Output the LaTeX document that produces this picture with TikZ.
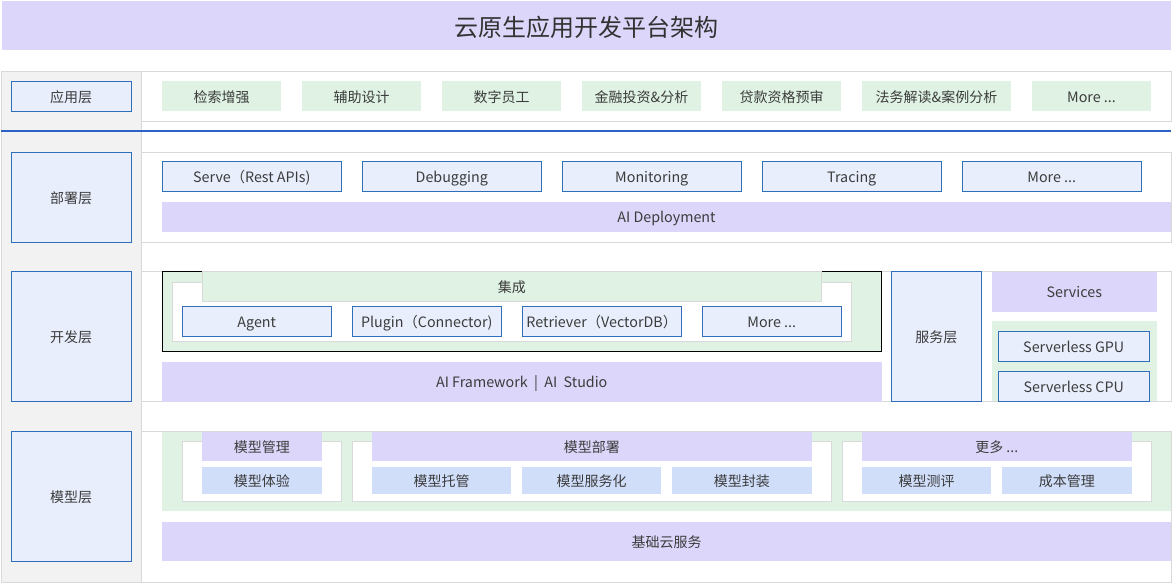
\documentclass[tikz,border=0pt]{standalone}
\usepackage{fontspec}
\setmainfont{Noto Sans CJK SC}
\definecolor{lav}{RGB}{220,215,250}
\definecolor{grn}{RGB}{223,242,227}
\definecolor{palebl}{RGB}{232,238,252}
\definecolor{bordbl}{RGB}{46,110,186}
\definecolor{itembl}{RGB}{208,222,250}
\definecolor{colgray}{RGB}{242,242,242}
\definecolor{lgray}{RGB}{217,217,217}
\definecolor{sepbl}{RGB}{43,98,196}
\definecolor{txt}{RGB}{60,60,60}
\definecolor{ttl}{RGB}{50,50,50}
\tikzset{
  base/.style={inner sep=0pt, outer sep=0pt, text=txt, text height=13pt, text depth=1pt, font=\fontsize{14}{16}\selectfont},
  lavbox/.style={base, fill=lav},
  grnbox/.style={base, fill=grn},
  bluebox/.style={base, fill=palebl, draw=bordbl, line width=0.9pt},
  itembox/.style={base, fill=itembl},
  whitebox/.style={base, fill=white, draw=lgray, line width=0.8pt},
  colbox/.style={base, fill=colgray, draw=lgray, line width=0.8pt},
  framebox/.style={base, fill=grn, draw=black, line width=0.8pt},
  hdrbox/.style={base, fill=grn, draw=lgray, line width=0.8pt},
  lat/.style={font=\fontsize{14.3}{17}\selectfont},
  titlebox/.style={lavbox, text=ttl, text height=23pt, text depth=1.5pt, font=\fontsize{24}{28}\selectfont},
}
\newcommand{\bx}[7]{\node[#2, anchor=north west, minimum width={(#5-#3)*1pt}, minimum height={(#6-#4)*1pt}] (#1) at (#3,#4) {#7};}
\begin{document}
\begin{tikzpicture}[x=1pt,y=-1pt]
\useasboundingbox (0,0) rectangle (1173,583);
\fill[white] (0,0) rectangle (1173,583);
% title
\bx{title}{titlebox}{2}{1.5}{1171}{50.5}{云原生应用开发平台架构}
% left column and rows
\bx{leftcol}{colbox}{1}{71}{141}{582}{}
\bx{row1}{whitebox}{141}{71}{1171}{121}{}
\bx{row2}{whitebox}{141}{152}{1171}{242}{}
\bx{row3}{whitebox}{141}{271}{1171}{401}{}
\bx{row4}{whitebox}{141}{431}{1171}{582}{}
% separator
\coordinate (sepL) at (1,131);
\coordinate (sepR) at (1171,131);
\draw[sepbl, line width=2.2pt] (sepL) -- (sepR);
% layer labels
\bx{l1}{bluebox}{11}{81}{131}{111.5}{应用层}
\bx{l2}{bluebox}{11}{152.5}{131}{242.5}{部署层}
\bx{l3}{bluebox}{11}{271.5}{131}{401.5}{开发层}
\bx{l4}{bluebox}{11}{431.5}{131}{561.5}{模型层}
% application row
\bx{a1}{grnbox}{162}{81.5}{281}{111.5}{检索增强}
\bx{a2}{grnbox}{302}{81.5}{421}{111.5}{辅助设计}
\bx{a3}{grnbox}{442}{81.5}{561}{111.5}{数字员工}
\bx{a4}{grnbox}{582}{81.5}{701}{111.5}{金融投资\&分析}
\bx{a5}{grnbox}{722}{81.5}{841}{111.5}{贷款资格预审}
\bx{a6}{grnbox}{862}{81.5}{1011}{111.5}{法务解读\&案例分析}
\bx{a7}{grnbox,lat}{1032}{81.5}{1151}{111.5}{More ...}
% deployment row
\bx{d1}{bluebox,lat}{162}{161}{341.5}{191.5}{Serve（Rest APIs)}
\bx{d2}{bluebox,lat}{362}{161}{541.5}{191.5}{Debugging}
\bx{d3}{bluebox,lat}{562}{161}{741.5}{191.5}{Monitoring}
\bx{d4}{bluebox,lat}{762}{161}{941.5}{191.5}{Tracing}
\bx{d5}{bluebox,lat}{962}{161}{1141.5}{191.5}{More ...}
\bx{dep}{lavbox,lat}{162}{202}{1171}{231.5}{AI Deployment}
% development row
\bx{frame}{framebox}{162}{271.5}{881.5}{351}{}
\bx{inner}{whitebox}{172}{282}{851.5}{341}{}
\bx{jc}{hdrbox}{202}{271.5}{821.5}{301.5}{集成}
\bx{g1}{bluebox,lat}{182}{306.5}{331.5}{336.5}{Agent}
\bx{g2}{bluebox,lat}{352}{306.5}{501.5}{336.5}{Plugin（Connector)}
\bx{g3}{bluebox,lat}{522}{306.5}{681.5}{336.5}{Retriever（VectorDB）}
\bx{g4}{bluebox,lat}{702}{306.5}{841.5}{336.5}{More ...}
\bx{fw}{lavbox,lat}{162}{362}{881.5}{401.5}{AI Framework \ | \ AI \ Studio}
\bx{svc}{bluebox}{891}{271.5}{981.5}{401.5}{服务层}
\bx{services}{lavbox,lat}{992}{271.5}{1156.5}{311.5}{Services}
\bx{sgrn}{grnbox}{992}{321}{1156.5}{401}{}
\bx{gpu}{bluebox,lat}{998.5}{331}{1149}{361.5}{Serverless GPU}
\bx{cpu}{bluebox,lat}{998.5}{371}{1149}{401.5}{Serverless CPU}
% model row
\bx{mgrn}{grnbox}{162}{431.5}{1171}{511}{}
\bx{w1}{whitebox}{182}{441.5}{341.5}{501}{}
\bx{w2}{whitebox}{352}{441.5}{831.5}{501}{}
\bx{w3}{whitebox}{842}{441.5}{1151.5}{501}{}
\bx{h1}{lavbox}{202}{431.5}{321.5}{461}{模型管理}
\bx{h2}{lavbox}{372}{431.5}{811.5}{461}{模型部署}
\bx{h3}{lavbox}{862}{431.5}{1131.5}{461}{更多 ...}
\bx{m1}{itembox}{202}{466.5}{321.5}{494}{模型体验}
\bx{m2}{itembox}{372}{466.5}{511}{494}{模型托管}
\bx{m3}{itembox}{522}{466.5}{661}{494}{模型服务化}
\bx{m4}{itembox}{672}{466.5}{811.5}{494}{模型封装}
\bx{m5}{itembox}{862}{466.5}{991}{494}{模型测评}
\bx{m6}{itembox}{1002}{466.5}{1131.5}{494}{成本管理}
\bx{cloud}{lavbox}{162}{521.5}{1171}{561}{基础云服务}
\end{tikzpicture}
\end{document}
